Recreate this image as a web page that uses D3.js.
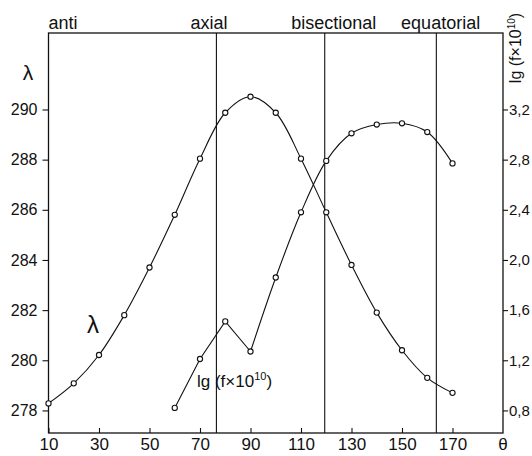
<!DOCTYPE html>
<html>
<head>
<meta charset="utf-8">
<script src="https://cdn.jsdelivr.net/npm/d3@7"></script>
<style>
  html, body { margin: 0; padding: 0; background: #fff; }
  svg { display: block; }
  text { font-family: "Liberation Sans", Arial, sans-serif; fill: #111; }
</style>
</head>
<body>
<svg id="chart" width="532" height="456"></svg>
<script>
// ---- data ----
const thetaLambda = [10, 20, 30, 40, 50, 60, 70, 80, 90, 100, 110, 120, 130, 140, 150, 160, 170];
const lambdaValues = [278.28, 279.08, 280.21, 281.8, 283.7, 285.8, 288.04, 289.87, 290.51, 289.87, 288.04, 285.9, 283.8, 281.9, 280.4, 279.3, 278.7];
const thetaF = [60, 70, 80, 90, 100, 110, 120, 130, 140, 150, 160, 170];
const lgFValues = [0.82, 1.21, 1.51, 1.27, 1.86, 2.38, 2.79, 3.01, 3.08, 3.09, 3.02, 2.77];
const xTicks = [10, 30, 50, 70, 90, 110, 130, 150, 170];
const leftTicks = [278, 280, 282, 284, 286, 288, 290];
const rightTicks = [0.8, 1.2, 1.6, 2.0, 2.4, 2.8, 3.2];
const conformerNames = ["anti", "axial", "bisectional", "equatorial"];
const conformerTheta = [null, 76.5, 119.4, 163.6];

// ---- scales ----
const svg = d3.select("#chart");
const x = d3.scaleLinear().domain([10, 190]).range([48.5, 503]);
const yL = d3.scaleLinear().domain([277.1, 293.05]).range([433, 33]);
const yR = d3.scaleLinear().domain([0.62, 3.81]).range([433, 33]);

const ink = "#111";

// frame
svg.append("rect")
  .attr("x", x(10)).attr("y", yL(293.05))
  .attr("width", x(190) - x(10)).attr("height", yL(277.1) - yL(293.05))
  .attr("fill", "none").attr("stroke", ink).attr("stroke-width", 1.3);

// conformer vertical lines
conformerTheta.forEach(t => {
  if (t === null) return;
  svg.append("line")
    .attr("x1", x(t)).attr("x2", x(t))
    .attr("y1", yL(293.05)).attr("y2", yL(277.1))
    .attr("stroke", ink).attr("stroke-width", 1.1);
});

// conformer labels
const labelPos = [
  { anchor: "start", xv: 10 },
  { anchor: "middle", xv: 73.6 },
  { anchor: "middle", xv: 123.0 },
  { anchor: "middle", xv: 165.3 }
];
conformerNames.forEach((n, i) => {
  svg.append("text")
    .attr("x", x(labelPos[i].xv))
    .attr("y", 29)
    .attr("text-anchor", labelPos[i].anchor)
    .attr("font-size", 18)
    .text(n);
});

// left axis
const gL = svg.append("g").attr("transform", `translate(${x(10)},0)`)
  .call(d3.axisLeft(yL).tickValues(leftTicks).tickSize(6).tickPadding(5).tickFormat(d3.format("d")));
gL.select(".domain").remove();
gL.selectAll("line").attr("stroke", ink).attr("stroke-width", 1.1);
gL.selectAll("text").attr("font-size", 16).attr("font-family", "Liberation Sans").attr("fill", ink);

// right axis
const gR = svg.append("g").attr("transform", `translate(${x(190)},0)`)
  .call(d3.axisRight(yR).tickValues(rightTicks).tickSize(5).tickPadding(1)
    .tickFormat(d => d.toFixed(1).replace(".", ",")));
gR.select(".domain").remove();
gR.selectAll("line").attr("stroke", ink).attr("stroke-width", 1.1);
gR.selectAll("text").attr("font-size", 15).attr("font-family", "Liberation Sans").attr("fill", ink);

// bottom axis (ticks inward)
const gB = svg.append("g").attr("transform", `translate(0,${yL(277.1)})`)
  .call(d3.axisBottom(x).tickValues(xTicks).tickSizeInner(-5).tickSizeOuter(0).tickFormat(d3.format("d")));
gB.select(".domain").remove();
gB.selectAll("line").attr("stroke", ink).attr("stroke-width", 1.1);
gB.selectAll("text").attr("font-size", 17).attr("font-family", "Liberation Sans").attr("fill", ink)
  .attr("y", 17).attr("dy", 0);

// axis titles
svg.append("text").attr("x", 28).attr("y", 80).attr("text-anchor", "middle")
  .attr("font-size", 21).attr("font-family", "DejaVu Sans").text("λ");
svg.append("text").attr("x", x(190)).attr("y", 450).attr("text-anchor", "middle")
  .attr("font-size", 17).attr("font-family", "DejaVu Sans").text("θ");

const rt = svg.append("text")
  .attr("transform", "translate(521,48) rotate(-90)")
  .attr("text-anchor", "middle").attr("font-size", 16);
rt.append("tspan").text("lg (f×10");
rt.append("tspan").attr("font-size", 10).attr("dy", -6).text("10");
rt.append("tspan").attr("dy", 6).text(")");

// curves
const lamPts = thetaLambda.map((t, i) => [x(t), yL(lambdaValues[i])]);
const fPts = thetaF.map((t, i) => [x(t), yR(lgFValues[i])]);

svg.append("path")
  .attr("d", d3.line().curve(d3.curveCatmullRom.alpha(0.5))(lamPts))
  .attr("fill", "none").attr("stroke", ink).attr("stroke-width", 1.1);

const kink = thetaF.indexOf(90);
svg.append("path")
  .attr("d", d3.line()(fPts.slice(0, kink + 1)))
  .attr("fill", "none").attr("stroke", ink).attr("stroke-width", 1.1);
svg.append("path")
  .attr("d", d3.line().curve(d3.curveCatmullRom.alpha(0.5))(fPts.slice(kink)))
  .attr("fill", "none").attr("stroke", ink).attr("stroke-width", 1.1);

// markers
svg.append("g").selectAll("circle").data(lamPts.concat(fPts)).join("circle")
  .attr("cx", d => d[0]).attr("cy", d => d[1]).attr("r", 2.6)
  .attr("fill", "#fff").attr("stroke", ink).attr("stroke-width", 1.1);

// in-plot curve labels
svg.append("text").attr("x", 93).attr("y", 333).attr("text-anchor", "middle")
  .attr("font-size", 24).attr("font-family", "DejaVu Sans").text("λ");
const fl = svg.append("text").attr("x", 197).attr("y", 387).attr("font-size", 17);
fl.append("tspan").text("lg (f×10");
fl.append("tspan").attr("font-size", 11).attr("dy", -7).text("10");
fl.append("tspan").attr("dy", 7).text(")");
</script>
</body>
</html>
